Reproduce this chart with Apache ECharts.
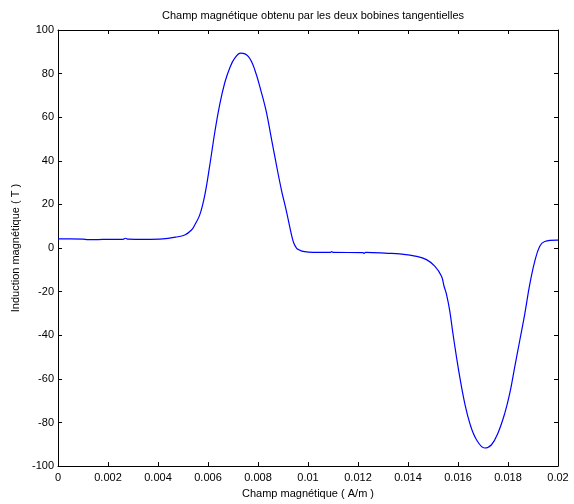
<!DOCTYPE html>
<html>
<head>
<meta charset="utf-8">
<script src="https://cdn.jsdelivr.net/npm/echarts@6/dist/echarts.min.js"></script>
<style>
  html, body { margin: 0; padding: 0; background: #fff; }
  #chart { width: 574px; height: 504px; }
</style>
</head>
<body>
<div id="chart"></div>
<script>
// Field strength (A/m) along the sweep
const fieldX = [
  0, 0.0005, 0.001, 0.0012, 0.0016, 0.002, 0.0026, 0.0027, 0.0028, 0.0035,
  0.0042, 0.0047, 0.00507, 0.00534, 0.00547, 0.00567, 0.00587, 0.00607, 0.00627, 0.00647,
  0.00667, 0.00687, 0.00707, 0.00731, 0.00761, 0.00787, 0.00814, 0.00834, 0.00854, 0.00874,
  0.00894, 0.00914, 0.00934, 0.00943, 0.00954, 0.00964, 0.0098, 0.0102, 0.0109, 0.01095,
  0.011, 0.0122, 0.01225, 0.0123, 0.0132, 0.01367, 0.01434, 0.01474, 0.01507, 0.01534,
  0.01544, 0.01554, 0.01567, 0.0158, 0.01594, 0.01607, 0.01627, 0.01647, 0.01674, 0.01707,
  0.01734, 0.0176, 0.01787, 0.01807, 0.01827, 0.01847, 0.01867, 0.01887, 0.01907, 0.01927,
  0.01947, 0.01994, 0.02
];
// Magnetic induction (T) measured for the two tangential coils
const inductionY = [
  4.2, 4.2, 4.1, 3.9, 3.9, 4.0, 4.0, 4.5, 4.1, 4.0,
  4.2, 5.0, 6.0, 8.3, 10.6, 15.2, 24.2, 37.9, 53.0, 65.9,
  75.8, 82.6, 87.1, 89.4, 87.9, 81.8, 71.2, 62.1, 50.0, 37.9,
  26.5, 16.7, 6.0, 2.3, 0.0, -0.8, -1.5, -2.0, -2.0, -1.6,
  -2.0, -2.1, -2.5, -2.0, -2.4, -2.7, -3.8, -5.3, -8.3, -12.9,
  -17.4, -21.2, -28.8, -39.4, -50.0, -59.1, -71.2, -80.3, -87.9, -91.7,
  -90.2, -84.8, -75.8, -66.7, -54.5, -42.4, -30.3, -16.7, -6.1, 0.8,
  3.0, 3.6, 3.6
];

const xTicks = { min: 0, max: 0.02, interval: 0.002 };
const yTicks = { min: -100, max: 100, interval: 20 };

const titleText = 'Champ magnétique obtenu par les deux bobines tangentielles';
const xName = 'Champ magnétique ( A/m )';
const yName = 'Induction magnétique ( T )';

const font = 'Liberation Sans, Arial, sans-serif';
const axisLine = { show: true, onZero: false, lineStyle: { color: '#000', width: 1 } };
const tick = { show: true, inside: true, length: 4, lineStyle: { color: '#000' } };

const chart = echarts.init(document.getElementById('chart'), null, { renderer: 'canvas' });
chart.setOption({
  animation: false,
  backgroundColor: '#fff',
  title: {
    text: titleText,
    left: 308, top: 5, textAlign: 'center',
    textStyle: { fontFamily: font, fontSize: 11, fontWeight: 'normal', color: '#000' }
  },
  grid: { left: 58, right: 16, top: 30, bottom: 34 },
  xAxis: [
    {
      type: 'value', position: 'bottom', ...xTicks,
      axisLine, axisTick: tick, splitLine: { show: false },
      axisLabel: {
        fontFamily: font, fontSize: 11, color: '#000', margin: 6,
        formatter: v => (Math.round(v * 1000) / 1000).toString()
      },
      name: xName, nameLocation: 'middle', nameGap: 20,
      nameTextStyle: { fontFamily: font, fontSize: 11, color: '#000' }
    },
    {
      type: 'value', position: 'top', ...xTicks,
      axisLine, axisTick: tick, splitLine: { show: false },
      axisLabel: { show: false }
    }
  ],
  yAxis: [
    {
      type: 'value', position: 'left', ...yTicks,
      axisLine, axisTick: tick, splitLine: { show: false },
      axisLabel: { fontFamily: font, fontSize: 11, color: '#000', margin: 4 },
      name: yName, nameLocation: 'middle', nameGap: 31, nameRotate: 90,
      nameTextStyle: { fontFamily: font, fontSize: 11, color: '#000' }
    },
    {
      type: 'value', position: 'right', ...yTicks,
      axisLine, axisTick: tick, splitLine: { show: false },
      axisLabel: { show: false }
    }
  ],
  series: [{
    type: 'line',
    xAxisIndex: 0, yAxisIndex: 0,
    data: fieldX.map((x, i) => [x, inductionY[i]]),
    showSymbol: false,
    smooth: 0.4,
    lineStyle: { color: '#0000ff', width: 1.2 }
  }]
});
</script>
</body>
</html>
